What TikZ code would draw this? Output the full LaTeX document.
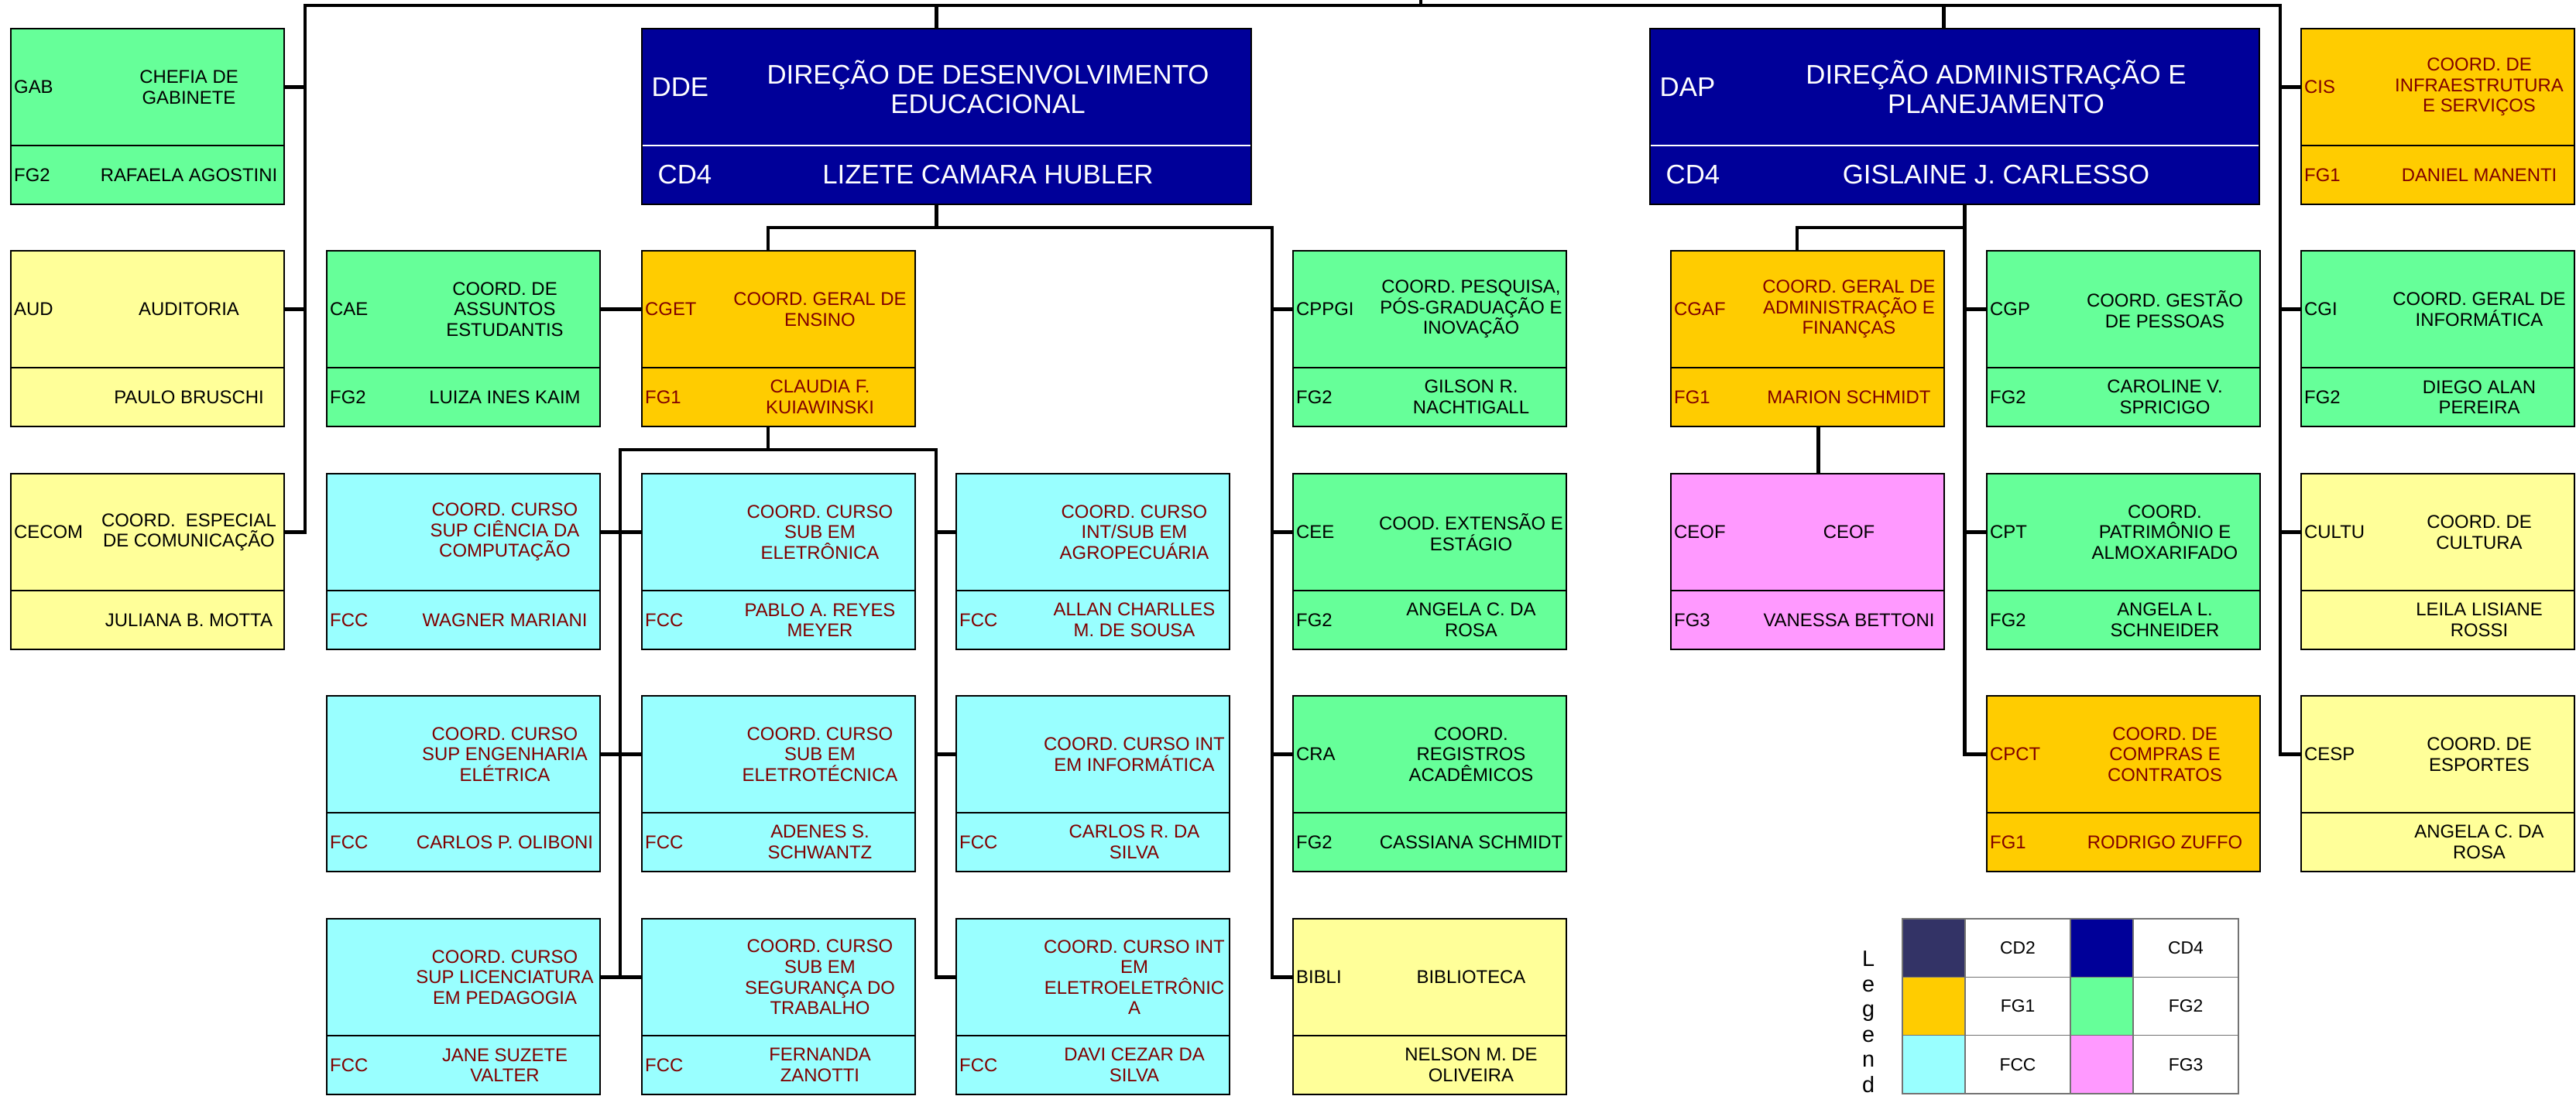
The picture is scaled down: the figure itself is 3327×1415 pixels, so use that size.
\documentclass[tikz,border=0pt]{standalone}
\usepackage{fontspec}
\setmainfont{Liberation Sans}
\usetikzlibrary{positioning,calc}

\definecolor{cdtwo}{HTML}{333366}
\definecolor{cdfour}{HTML}{000099}
\definecolor{fgone}{HTML}{FFCC00}
\definecolor{fgtwo}{HTML}{66FF99}
\definecolor{fgthree}{HTML}{FF99FF}
\definecolor{fcc}{HTML}{99FFFF}
\definecolor{nofg}{HTML}{FFFF99}
\definecolor{redtxt}{HTML}{800000}

% name, x, y, fill, text colour, code, title, function, person
\newcommand{\orgunit}[9]{%
    \node[unittop, fill=#4, anchor=north west] (#1) at (#2,#3) {};
    \node[unitbot, fill=#4, anchor=north west] (#1-b) at (#1.south west) {};
    \node[unitcode, text=#5] (#1-c) at (#1.west) {#6};
    \node[unittitle, text=#5] (#1-t) at ([xshift=2.3cm]#1.west) {#7};
    \node[unitcode, text=#5] (#1-f) at (#1-b.west) {#8};
    \node[unittitle, text=#5] (#1-n) at ([xshift=2.3cm]#1-b.west) {#9};
}
% name, x, y, code, title, function, person
\newcommand{\orgdir}[7]{%
    \node[dirtop, anchor=north west] (#1) at (#2,#3) {};
    \node[dirbot, anchor=north west] (#1-b) at (#1.south west) {};
    \draw[white, line width=0.5pt] ([xshift=0.4pt]#1.south west) -- ([xshift=-0.4pt]#1.south east);
    \node[dircode, xshift=1.2mm] (#1-c) at (#1.west) {#4};
    \node[dirtitle] (#1-t) at ([xshift=4.47cm]#1.west) {#5};
    \node[dircode, xshift=2mm] (#1-f) at (#1-b.west) {#6};
    \node[dirtitle] (#1-n) at ([xshift=4.47cm]#1-b.west) {#7};
}

\begin{document}
\begin{tikzpicture}[x=0.1mm, y=-0.1mm,
    unittop/.style={draw, line width=0.6pt, minimum width=3.53cm, minimum height=1.51cm, inner sep=0, outer sep=0},
    unitbot/.style={unittop, minimum height=0.76cm},
    dirtop/.style={unittop, fill=cdfour, minimum width=7.87cm},
    dirbot/.style={dirtop, minimum height=0.76cm},
    unitcode/.style={anchor=west, inner xsep=0.35mm, inner ysep=0, font=\fontsize{6.8pt}{7.55pt}\selectfont},
    unittitle/.style={align=center, inner sep=0, font=\fontsize{6.8pt}{7.55pt}\selectfont},
    dircode/.style={anchor=west, inner sep=0, text=white, font=\fontsize{9.9pt}{10.7pt}\selectfont},
    dirtitle/.style={align=center, inner sep=0, text=white, font=\fontsize{9.9pt}{10.7pt}\selectfont},
    lgcell/.style={draw=black!55, line width=0.4pt, minimum height=0.753cm, anchor=north west, inner sep=0, outer sep=0, font=\fontsize{6.5pt}{7.2pt}\selectfont},
    link/.style={line width=1.35pt},
]
    \useasboundingbox (0,0) rectangle (3327,1415);

    \orgunit{GAB}{14}{37}{fgtwo}{black}{GAB}{CHEFIA DE\\GABINETE}{FG2}{RAFAELA AGOSTINI}
    \orgunit{AUD}{14}{324}{nofg}{black}{AUD}{AUDITORIA}{}{PAULO BRUSCHI}
    \orgunit{CECOM}{14}{612}{nofg}{black}{CECOM}{COORD.\ \ ESPECIAL\\DE COMUNICAÇÃO}{}{JULIANA B. MOTTA}

    \orgunit{CAE}{422}{324}{fgtwo}{black}{CAE}{COORD. DE\\ASSUNTOS\\ESTUDANTIS}{FG2}{LUIZA INES KAIM}
    \orgunit{CCOMP}{422}{612}{fcc}{redtxt}{}{COORD. CURSO\\SUP CIÊNCIA DA\\COMPUTAÇÃO}{FCC}{WAGNER MARIANI}
    \orgunit{CENG}{422}{899}{fcc}{redtxt}{}{COORD. CURSO\\SUP ENGENHARIA\\ELÉTRICA}{FCC}{CARLOS P. OLIBONI}
    \orgunit{CPED}{422}{1187}{fcc}{redtxt}{}{COORD. CURSO\\SUP LICENCIATURA\\EM PEDAGOGIA}{FCC}{JANE SUZETE\\VALTER}

    \orgdir{DDE}{829}{37}{DDE}{DIREÇÃO DE DESENVOLVIMENTO\\EDUCACIONAL}{CD4}{LIZETE CAMARA HUBLER}
    \orgunit{CGET}{829}{324}{fgone}{redtxt}{CGET}{COORD. GERAL DE\\ENSINO}{FG1}{CLAUDIA F.\\KUIAWINSKI}
    \orgunit{CELN}{829}{612}{fcc}{redtxt}{}{COORD. CURSO\\SUB EM\\ELETRÔNICA}{FCC}{PABLO A. REYES\\MEYER}
    \orgunit{CELT}{829}{899}{fcc}{redtxt}{}{COORD. CURSO\\SUB EM\\ELETROTÉCNICA}{FCC}{ADENES S.\\SCHWANTZ}
    \orgunit{CSEG}{829}{1187}{fcc}{redtxt}{}{COORD. CURSO\\SUB EM\\SEGURANÇA DO\\TRABALHO}{FCC}{FERNANDA\\ZANOTTI}

    \orgunit{CAGRO}{1235}{612}{fcc}{redtxt}{}{COORD. CURSO\\INT/SUB EM\\AGROPECUÁRIA}{FCC}{ALLAN CHARLLES\\M. DE SOUSA}
    \orgunit{CINFO}{1235}{899}{fcc}{redtxt}{}{COORD. CURSO INT\\EM INFORMÁTICA}{FCC}{CARLOS R. DA\\SILVA}
    \orgunit{CELE}{1235}{1187}{fcc}{redtxt}{}{COORD. CURSO INT\\EM\\ELETROELETRÔNIC\\A}{FCC}{DAVI CEZAR DA\\SILVA}

    \orgunit{CPPGI}{1670}{324}{fgtwo}{black}{CPPGI}{COORD. PESQUISA,\\PÓS-GRADUAÇÃO E\\INOVAÇÃO}{FG2}{GILSON R.\\NACHTIGALL}
    \orgunit{CEE}{1670}{612}{fgtwo}{black}{CEE}{COOD. EXTENSÃO E\\ESTÁGIO}{FG2}{ANGELA C. DA\\ROSA}
    \orgunit{CRA}{1670}{899}{fgtwo}{black}{CRA}{COORD.\\REGISTROS\\ACADÊMICOS}{FG2}{CASSIANA SCHMIDT}
    \orgunit{BIBLI}{1670}{1187}{nofg}{black}{BIBLI}{BIBLIOTECA}{}{NELSON M. DE\\OLIVEIRA}

    \orgdir{DAP}{2131}{37}{DAP}{DIREÇÃO ADMINISTRAÇÃO E\\PLANEJAMENTO}{CD4}{GISLAINE J. CARLESSO}
    \orgunit{CGAF}{2158}{324}{fgone}{redtxt}{CGAF}{COORD. GERAL DE\\ADMINISTRAÇÃO E\\FINANÇAS}{FG1}{MARION SCHMIDT}
    \orgunit{CEOF}{2158}{612}{fgthree}{black}{CEOF}{CEOF}{FG3}{VANESSA BETTONI}

    \orgunit{CGP}{2566}{324}{fgtwo}{black}{CGP}{COORD. GESTÃO\\DE PESSOAS}{FG2}{CAROLINE V.\\SPRICIGO}
    \orgunit{CPT}{2566}{612}{fgtwo}{black}{CPT}{COORD.\\PATRIMÔNIO E\\ALMOXARIFADO}{FG2}{ANGELA L.\\SCHNEIDER}
    \orgunit{CPCT}{2566}{899}{fgone}{redtxt}{CPCT}{COORD. DE\\COMPRAS E\\CONTRATOS}{FG1}{RODRIGO ZUFFO}

    \orgunit{CIS}{2972}{37}{fgone}{redtxt}{CIS}{COORD. DE\\INFRAESTRUTURA\\E SERVIÇOS}{FG1}{DANIEL MANENTI}
    \orgunit{CGI}{2972}{324}{fgtwo}{black}{CGI}{COORD. GERAL DE\\INFORMÁTICA}{FG2}{DIEGO ALAN\\PEREIRA}
    \orgunit{CULTU}{2972}{612}{nofg}{black}{CULTU}{COORD. DE\\CULTURA}{}{LEILA LISIANE\\ROSSI}
    \orgunit{CESP}{2972}{899}{nofg}{black}{CESP}{COORD. DE\\ESPORTES}{}{ANGELA C. DA\\ROSA}

    \coordinate (top) at (1835,0);
    \coordinate (busL) at (394,7);
    \coordinate (busR) at (2945,7);
    \coordinate (ddeL) at (992,294);
    \coordinate (ddeR) at (1643,294);
    \coordinate (curL) at (801,581);
    \coordinate (curR) at (1209,581);
    \coordinate (dapL) at (2321,294);
    \coordinate (dapR) at (2538,294);

    % main bus
    \draw[link] (CECOM.east) -| (busL) -- (busR) |- (CESP.west);
    \draw[link] (top) -- (top |- busL);
    \foreach \n in {GAB, AUD} \draw[link] (\n.east) -- (\n.east -| busL);
    \foreach \n in {CIS, CGI, CULTU} \draw[link] (\n.west) -- (\n.west -| busR);
    \draw[link] ([xshift=-1.3mm]DDE.north) -- ([xshift=-1.3mm]DDE.north |- busL);
    \draw[link] ([xshift=-1.4mm]DAP.north) -- ([xshift=-1.4mm]DAP.north |- busR);

    % DDE
    \draw[link] ([xshift=-1.3mm]DDE-b.south) -- ([xshift=-1.3mm]DDE-b.south |- ddeL);
    \draw[link] (CGET.north -| ddeL) -- (ddeL) -- (ddeR) |- (BIBLI.west);
    \foreach \n in {CPPGI, CEE, CRA} \draw[link] (\n.west) -- (\n.west -| ddeR);
    \draw[link] (CAE.east) -- (CGET.west);
    \draw[link] (CGET-b.south -| ddeL) -- (curL -| ddeL);
    \draw[link] (CPED.east -| curL) -- (curL) -- (curR) |- (CELE.west);
    \foreach \a/\b in {CCOMP/CELN, CENG/CELT, CPED/CSEG} \draw[link] (\a.east) -- (\b.west);
    \foreach \n in {CAGRO, CINFO} \draw[link] (\n.west) -- (\n.west -| curR);

    % DAP
    \draw[link] ([xshift=1.33mm]DAP-b.south) |- (CPCT.west);
    \draw[link] (CGAF.north -| dapL) -- (dapL) -- (dapR);
    \foreach \n in {CGP, CPT} \draw[link] (\n.west) -- (\n.west -| dapR);
    \draw[link] ([xshift=1.4mm]CGAF-b.south) -- ([xshift=1.4mm]CEOF.north);

    % legend
    \node[font=\fontsize{8.2pt}{9.25pt}\selectfont, align=center, inner sep=0] (lgword) at (2413,1320) {L\\e\\g\\e\\n\\d};
    \foreach \lab/\col/\r/\c in {CD2/cdtwo/0/0, CD4/cdfour/0/1, FG1/fgone/1/0, FG2/fgtwo/1/1, FCC/fcc/2/0, FG3/fgthree/2/1}{
        \node[lgcell, fill=\col, minimum width=0.81cm] (lgs-\lab) at ({2457+217*\c},{1187+75.3*\r}) {};
        \node[lgcell, minimum width=1.36cm] (lg-\lab) at (lgs-\lab.north east) {\lab};
    }
\end{tikzpicture}
\end{document}
